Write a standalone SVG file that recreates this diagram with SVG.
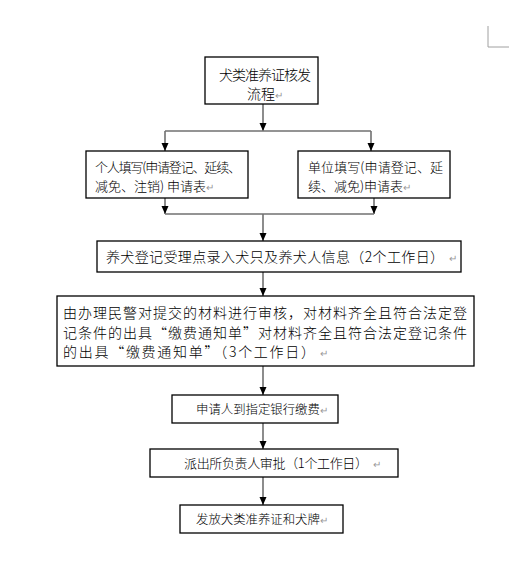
<svg xmlns="http://www.w3.org/2000/svg" width="517" height="577" viewBox="0 0 517 577">
<style>
.box{fill:#fff;stroke:#000;stroke-width:1.3}
.t{font-family:"Noto Sans CJK SC","Liberation Sans",sans-serif;font-size:14px;font-weight:300;fill:#000}
.s{font-size:13px}
.m{font-size:12.4px}
.pm{fill:#999;font-size:10px}
.c{fill:none;stroke:#707070;stroke-width:1.6}
</style>
<defs>
<marker id="ah" markerUnits="userSpaceOnUse" markerWidth="8" markerHeight="8" refX="8" refY="4" orient="auto" viewBox="0 0 8 8">
<path d="M0,0.5 L8,4 L0,7.5 z" fill="#000"/>
</marker>
</defs>
<rect width="517" height="577" fill="#fff"/>
<path d="M488,26 V47 H509" fill="none" stroke="#a0a0a0" stroke-width="1"/>
<g id="connectors">
<path class="c" d="M263,104 V131" marker-end="url(#ah)"/>
<path class="c" d="M165,131 H371"/>
<path class="c" d="M165,131 V151" marker-end="url(#ah)"/>
<path class="c" d="M371,131 V151" marker-end="url(#ah)"/>
<path class="c" d="M165,198 V214" marker-end="url(#ah)"/>
<path class="c" d="M374,198 V214" marker-end="url(#ah)"/>
<path class="c" d="M165,214 H374"/>
<path class="c" d="M263,214 V241" marker-end="url(#ah)"/>
<path class="c" d="M263,272 V296" marker-end="url(#ah)"/>
<path class="c" d="M263,366 V395" marker-end="url(#ah)"/>
<path class="c" d="M263,423 V449" marker-end="url(#ah)"/>
<path class="c" d="M263,477 V505" marker-end="url(#ah)"/>
</g>
<g id="title">
<rect class="box" x="205" y="57" width="113" height="47"/>
<text class="t" x="219" y="80" font-size="15" textLength="92" lengthAdjust="spacing">犬类准养证核发</text>
<text class="t" x="247" y="99" font-size="15">流程<tspan class="pm">↵</tspan></text>
</g>
<g id="personal">
<rect class="box" x="86" y="151" width="162" height="47"/>
<text class="t s" x="95" y="172" textLength="146" lengthAdjust="spacing" xml:lang="zh-CN">个人填写(申请登记、延续、</text>
<text class="t s" x="95" y="191" xml:lang="zh-CN">减免、注销) 申请表<tspan class="pm">↵</tspan></text>
</g>
<g id="unit">
<rect class="box" x="298" y="151" width="152" height="47"/>
<text class="t s" x="308" y="172" textLength="135" lengthAdjust="spacing" xml:lang="zh-CN">单位填写(申请登记、延</text>
<text class="t s" x="308" y="191" xml:lang="zh-CN">续、减免)申请表<tspan class="pm">↵</tspan></text>
</g>
<g id="register">
<rect class="box" x="97" y="241" width="364" height="31"/>
<text class="t" x="106" y="262" textLength="338" lengthAdjust="spacing" xml:lang="zh-CN">养犬登记受理点录入犬只及养犬人信息（2个工作日）</text>
<text class="t pm" x="449" y="262">↵</text>
</g>
<g id="review">
<rect class="box" x="57" y="296" width="417" height="70"/>
<text class="t" x="63" y="318" textLength="404" lengthAdjust="spacing" xml:lang="zh-CN">由办理民警对提交的材料进行审核，对材料齐全且符合法定登</text>
<text class="t" x="63" y="338" textLength="404" lengthAdjust="spacing" xml:lang="zh-CN">记条件的出具“缴费通知单”对材料齐全且符合法定登记条件</text>
<text class="t" x="63" y="357" textLength="252" lengthAdjust="spacing" xml:lang="zh-CN">的出具“缴费通知单”（3个工作日）</text>
<text class="t pm" x="320" y="357">↵</text>
</g>
<g id="pay">
<rect class="box" x="172" y="395" width="166" height="28"/>
<text class="t m" x="196" y="414" xml:lang="zh-CN">申请人到指定银行缴费<tspan class="pm">↵</tspan></text>
</g>
<g id="approve">
<rect class="box" x="150" y="449" width="248" height="28"/>
<text class="t s" x="184" y="468" textLength="184" lengthAdjust="spacing" xml:lang="zh-CN">派出所负责人审批（1个工作日）</text>
<text class="t pm" x="373" y="468">↵</text>
</g>
<g id="issue">
<rect class="box" x="180" y="505" width="163" height="28"/>
<text class="t m" x="196" y="524" xml:lang="zh-CN">发放犬类准养证和犬牌<tspan class="pm">↵</tspan></text>
</g>
</svg>
